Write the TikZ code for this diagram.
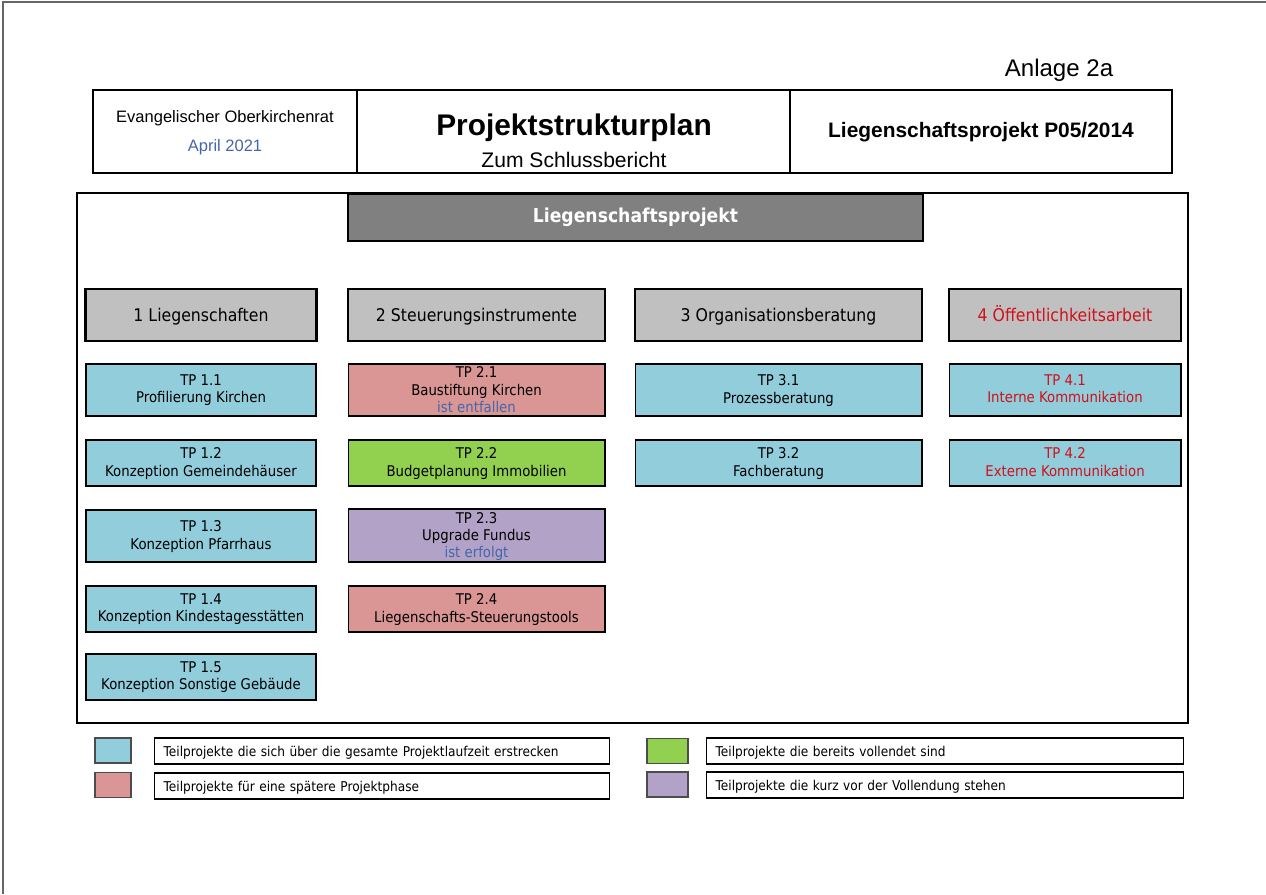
\documentclass[tikz,border=0pt]{standalone}
\usepackage{fontspec}
\setmainfont{Liberation Sans}
\newfontfamily\boxfont[FakeStretch=0.9]{DejaVu Sans}
\usetikzlibrary{positioning}

\definecolor{tpblue}{HTML}{92CDDC}
\definecolor{tpred}{HTML}{D99694}
\definecolor{tpgreen}{HTML}{92D050}
\definecolor{tppurple}{HTML}{B2A2C7}
\definecolor{lvgray}{HTML}{C0C0C0}
\definecolor{topgray}{HTML}{808080}
\definecolor{notered}{HTML}{D0101A}
\definecolor{noteblue}{HTML}{4466AA}

\tikzset{
    tp/.style={draw, line width=0.6pt, inner sep=0pt, align=center, text depth=0.3ex,
        font=\boxfont\fontsize{8.4}{10.2}\selectfont, minimum height=1.04cm},
    tpthree/.style={tp, text depth=0.1ex, font=\boxfont\fontsize{8.4}{9.7}\selectfont},
    level/.style={draw, line width=1.2pt, fill=lvgray, inner sep=0pt, text height=2.1ex, text depth=0.6ex,
        font=\boxfont\fontsize{9.95}{11}\selectfont, minimum height=1.04cm},
    swatch/.style={draw=black!70, line width=0.6pt, minimum width=0.72cm, minimum height=0.5cm, inner sep=0pt},
    legtext/.style={draw, line width=0.6pt, minimum height=0.52cm, inner ysep=0pt, inner xsep=0.18cm,
        text height=1.6ex, text depth=0.5ex,
        font=\boxfont\fontsize{7.7}{9}\selectfont, anchor=west, align=left},
}

\begin{document}
\begin{tikzpicture}[x=0.02cm, y=-0.02cm]
    \useasboundingbox (0, 0) rectangle (1266, 894);
    % page edge
    \draw[line width=1pt, black!60] (3, 894) -- (3, 2) -- (1266, 2);

    % header
    \node[font=\fontsize{13.7}{15}\selectfont] (anlage) at (1059, 70) {Anlage 2a};
    \draw[line width=0.6pt] (93, 90) rectangle (1172, 173);
    \draw[line width=0.6pt] (357, 90) -- (357, 173);
    \draw[line width=0.6pt] (790, 90) -- (790, 173);
    \node[font=\fontsize{9.4}{11}\selectfont] (okr) at (225, 118) {Evangelischer Oberkirchenrat};
    \node[font=\fontsize{9.4}{11}\selectfont, text=noteblue] (datum) at (225, 147) {April 2021};
    \node[font=\bfseries\fontsize{17}{19}\selectfont] (titel) at (574, 128) {Projektstrukturplan};
    \node[font=\fontsize{12}{14}\selectfont] (untertitel) at (574, 160) {Zum Schlussbericht};
    \node[font=\bfseries\fontsize{11.9}{14}\selectfont] (projekt) at (981, 132) {Liegenschaftsprojekt P05/2014};

    % frame and top node
    \draw[line width=0.6pt] (77, 193) rectangle (1188, 723);
    \node[draw, line width=1.2pt, fill=topgray, minimum width=11.5cm, minimum height=0.94cm,
        text=white, font=\boxfont\bfseries\fontsize{10.9}{12}\selectfont] (lp) at (635.5, 217.5) {Liegenschaftsprojekt};

    % level 1
    \node[level, minimum width=4.62cm] (l1) at (201, 315) {1 Liegenschaften};
    \node[level, minimum width=5.14cm] (l2) at (476.5, 315) {2 Steuerungsinstrumente};
    \node[level, minimum width=5.74cm] (l3) at (778.5, 315) {3 Organisationsberatung};
    \node[level, minimum width=4.64cm, text=notered] (l4) at (1065, 315) {4 Öffentlichkeitsarbeit};

    % column 1
    \node[tp, fill=tpblue, minimum width=4.6cm] (tp11) at (201, 390) {TP 1.1\\Profilierung Kirchen};
    \node[tp, fill=tpblue, minimum width=4.6cm, minimum height=0.92cm] (tp12) at (201, 463) {TP 1.2\\Konzeption Gemeindehäuser};
    \node[tp, fill=tpblue, minimum width=4.6cm] (tp13) at (201, 536) {TP 1.3\\Konzeption Pfarrhaus};
    \node[tp, fill=tpblue, minimum width=4.6cm, minimum height=0.92cm] (tp14) at (201, 609) {TP 1.4\\Konzeption Kindestagesstätten};
    \node[tp, fill=tpblue, minimum width=4.6cm, minimum height=0.92cm] (tp15) at (201, 677) {TP 1.5\\Konzeption Sonstige Gebäude};

    % column 2
    \node[tpthree, fill=tpred, minimum width=5.14cm] (tp21) at (476.5, 390) {TP 2.1\\Baustiftung Kirchen\\\textcolor{noteblue}{ist entfallen}};
    \node[tp, fill=tpgreen, minimum width=5.14cm, minimum height=0.92cm] (tp22) at (476.5, 463) {TP 2.2\\Budgetplanung Immobilien};
    \node[tpthree, fill=tppurple, minimum width=5.14cm, minimum height=1.06cm] (tp23) at (476.5, 535.5) {TP 2.3\\Upgrade Fundus\\\textcolor{noteblue}{ist erfolgt}};
    \node[tp, fill=tpred, minimum width=5.14cm, minimum height=0.92cm] (tp24) at (476.5, 609) {TP 2.4\\Liegenschafts-Steuerungstools};

    % column 3
    \node[tp, fill=tpblue, minimum width=5.74cm] (tp31) at (778.5, 390) {TP 3.1\\Prozessberatung};
    \node[tp, fill=tpblue, minimum width=5.74cm, minimum height=0.92cm] (tp32) at (778.5, 463) {TP 3.2\\Fachberatung};

    % column 4
    \node[tp, fill=tpblue, minimum width=4.64cm, text=notered] (tp41) at (1065, 390) {TP 4.1\\Interne Kommunikation};
    \node[tp, fill=tpblue, minimum width=4.64cm, minimum height=0.92cm, text=notered] (tp42) at (1065, 463) {TP 4.2\\Externe Kommunikation};

    % legend
    \node[swatch, fill=tpblue] (swblue) at (113, 750.5) {};
    \node[swatch, fill=tpred] (swred) at (113, 785) {};
    \node[swatch, fill=tpgreen, minimum width=0.82cm] (swgreen) at (667.5, 751) {};
    \node[swatch, fill=tppurple, minimum width=0.82cm] (swpurple) at (667.5, 784.5) {};
    \node[legtext, text width=8.74cm] (lgblue) at (154, 751) {Teilprojekte die sich über die gesamte Projektlaufzeit erstrecken};
    \node[legtext, text width=8.74cm] (lgred) at (154, 786) {Teilprojekte für eine spätere Projektphase};
    \node[legtext, text width=9.18cm] (lggreen) at (706, 751) {Teilprojekte die bereits vollendet sind};
    \node[legtext, text width=9.18cm] (lgpurple) at (706, 785) {Teilprojekte die kurz vor der Vollendung stehen};
\end{tikzpicture}
\end{document}
